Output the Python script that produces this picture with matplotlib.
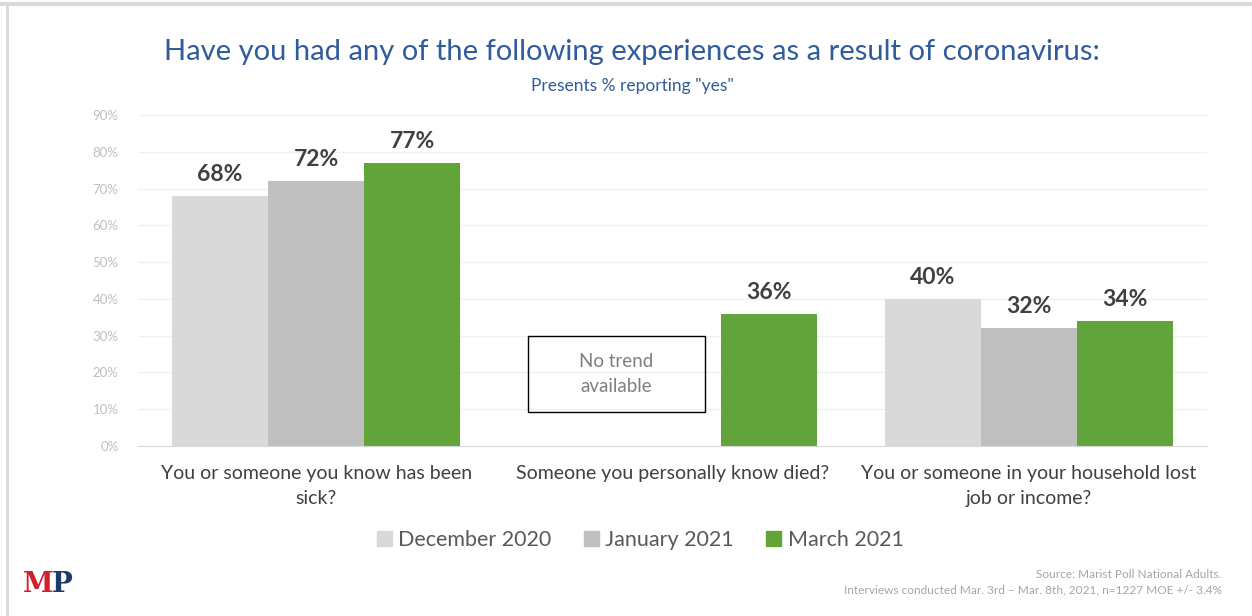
import matplotlib
matplotlib.use('Agg')
import matplotlib.pyplot as plt
from matplotlib.patches import Rectangle
from matplotlib.lines import Line2D
import numpy as np

plt.rcParams['font.family'] = ['Lato', 'DejaVu Sans']

categories = ['You or someone you know has been\nsick?',
              'Someone you personally know died?',
              'You or someone in your household lost\njob or income?']
series_names = ['December 2020', 'January 2021', 'March 2021']
dec_2020 = [68, 0, 40]
jan_2021 = [72, 0, 32]
mar_2021 = [77, 36, 34]
has_trend = [True, False, True]
colors = ['#D9D9D9', '#BFBFBF', '#62A43A']
yticks = [0, 10, 20, 30, 40, 50, 60, 70, 80, 90]

fig = plt.figure(figsize=(12.52, 6.16), dpi=100)
ax = fig.add_axes([138 / 1252, 170 / 616, 1069 / 1252, 331 / 616])

x = np.arange(len(categories))
w = 0.27
offsets = [-w, 0, w]
for vals, off, col in zip([dec_2020, jan_2021, mar_2021], offsets, colors):
    for xi, v, t in zip(x, vals, has_trend):
        if v == 0 and not t:
            continue
        ax.bar(xi + off, v, width=w, color=col, zorder=2)
        ax.text(xi + off, v + 3.0, '%d%%' % v, ha='center', va='bottom',
                fontsize=16.5, fontweight='bold', color='#404040')

ax.set_xlim(-0.5, 2.5)
ax.set_ylim(0, 90)
ax.set_yticks(yticks)
ax.set_yticklabels(['%d%%' % t for t in yticks], color='#BFBFBF', fontsize=9.5)
ax.tick_params(axis='y', length=0, pad=14)
ax.set_xticks(x)
ax.set_xticklabels(categories, fontsize=14, color='#404040', linespacing=1.55)
ax.tick_params(axis='x', length=0, pad=14)
ax.grid(axis='y', color='#F0F0F0', linewidth=1, zorder=0)
for s in ['top', 'right', 'left']:
    ax.spines[s].set_visible(False)
ax.spines['bottom'].set_color('#D9D9D9')

# "No trend available" box
ax.add_patch(Rectangle((0.595, 9.2), 0.496, 20.7, fill=False, edgecolor='black',
                       linewidth=1, zorder=3))
ax.text(0.843, 19.5, 'No trend\navailable', ha='center', va='center',
        fontsize=13.5, color='#7F7F7F', linespacing=1.55)

fig.text(632 / 1252, 1 - 52 / 616,
         'Have you had any of the following experiences as a result of coronavirus:',
         ha='center', va='center', fontsize=21, color='#2F5C9A')
fig.text(632 / 1252, 1 - 86 / 616, 'Presents % reporting "yes"', ha='center', va='center',
         fontsize=12.5, color='#2F5C9A')

handles = [Rectangle((0, 0), 1, 1, color=c) for c in colors]
fig.legend(handles, series_names, loc='center', bbox_to_anchor=(640 / 1252, 1 - 540 / 616),
           ncol=3, frameon=False, fontsize=15.5, handlelength=0.7, handleheight=0.7,
           handletextpad=0.3, columnspacing=1.5, labelcolor='#595959')

fig.text(1222 / 1252, 1 - 574 / 616, 'Source: Marist Poll National Adults.', ha='right',
         va='center', fontsize=8.6, color='#A6A6A6')
fig.text(1222 / 1252, 1 - 590 / 616,
         'Interviews conducted Mar. 3rd \u2013 Mar. 8th, 2021, n=1227 MOE +/- 3.4%',
         ha='right', va='center', fontsize=8.6, color='#A6A6A6')

# MP logo
fig.text(23 / 1252, 1 - 585 / 616, 'M', ha='left', va='center', fontsize=20,
         fontweight='bold', family='DejaVu Serif', color='#D0202E')
fig.text(52 / 1252, 1 - 585 / 616, 'P', ha='left', va='center', fontsize=20,
         fontweight='bold', family='DejaVu Serif', color='#1F3A6B')

# frame lines
fig.add_artist(Line2D([0, 1], [1 - 4 / 616, 1 - 4 / 616], color='#D9D9D9', linewidth=3))
fig.add_artist(Line2D([7 / 1252, 7 / 1252], [0, 1 - 4 / 616], color='#D9D9D9', linewidth=2))

fig.savefig('out.png', dpi=100)
